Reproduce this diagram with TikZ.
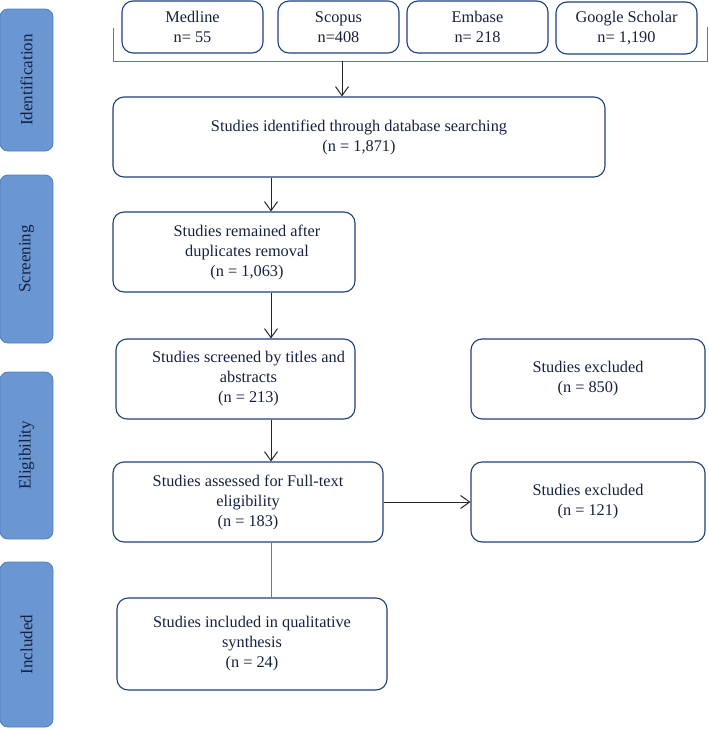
\documentclass[tikz,border=0pt]{standalone}
\usepackage{fontspec}
\setmainfont{Liberation Serif}
\usetikzlibrary{arrows.meta}
\definecolor{navy}{HTML}{1F3F7A}
\definecolor{txt}{HTML}{15213F}
\definecolor{sidefill}{HTML}{6A96D2}
\definecolor{sidedraw}{HTML}{4F7FC0}
\begin{document}
\begin{tikzpicture}[x=1pt,y=-1pt,
  box/.style={draw=navy,line width=1.1pt,rounded corners=11pt,align=center,text=txt,
    font=\fontsize{16.3}{20}\selectfont,inner sep=1pt},
  side/.style={draw=sidedraw,fill=sidefill,line width=0.8pt,rounded corners=8pt,
    minimum width=53pt,text=txt,font=\fontsize{17}{18}\selectfont},
  conn/.style={draw=black!85,line width=1pt},
  arr/.style={conn,-{Straight Barb[length=9pt,width=13pt,line width=1pt]}}]
\useasboundingbox (0,0) rectangle (709,729);
% side labels
\node[side,minimum height=142pt] (sid) at (26.5,80) {\rotatebox{90}{Identification}};
\node[side,minimum height=168pt] (sscr) at (26.5,259) {\rotatebox{90}{Screening}};
\node[side,minimum height=167pt] (selig) at (26.5,455.5) {\rotatebox{90}{Eligibility}};
\node[side,minimum height=165pt] (sinc) at (26.5,644.5) {\rotatebox{90}{Included}};
% databases
\node[box,minimum width=141pt,minimum height=52pt] (med) at (192.5,27) {Medline\\n= 55};
\node[box,minimum width=121pt,minimum height=52pt] (sco) at (338.5,27) {Scopus\\n=408};
\node[box,minimum width=141pt,minimum height=52pt] (emb) at (477.5,27) {Embase\\n= 218};
\node[box,minimum width=141pt,minimum height=52pt] (goo) at (626.5,28) {Google Scholar\\n= 1,190};
\coordinate (bl) at (113,28);
\coordinate (br) at (707.5,27);
\coordinate (brk) at (342,61);
\draw[conn,line width=0.8pt,draw=navy!70] (bl) -- (bl |- brk) -- (br |- brk) -- (br);
% main boxes
\node[box,minimum width=492pt,minimum height=80pt] (ident) at (359,137) {Studies identified through database searching\\(n = 1,871)};
\node[box,minimum width=242pt,minimum height=80pt] (dup) at (234,252) {\hspace*{26pt}Studies remained after\\\hspace*{26pt}duplicates removal\\\hspace*{26pt}(n = 1,063)};
\node[box,minimum width=239pt,minimum height=80pt] (scr) at (235.5,379) {\hspace*{26pt}Studies screened by titles and\\\hspace*{26pt}abstracts\\\hspace*{26pt}(n = 213)};
\node[box,minimum width=234pt,minimum height=80pt] (ex1) at (588,379) {Studies excluded\\(n = 850)};
\node[box,minimum width=270pt,minimum height=80pt] (ass) at (248,502) {Studies assessed for Full-text\\eligibility\\(n = 183)};
\node[box,minimum width=234pt,minimum height=80pt] (ex2) at (588,502) {Studies excluded\\(n = 121)};
\node[box,minimum width=270pt,minimum height=92pt] (inc) at (252,644) {Studies included in qualitative\\synthesis\\(n = 24)};
% connectors
\coordinate (col) at (271,0);
\draw[arr] (brk) -- (brk |- ident.north);
\draw[arr] (ident.south -| col) -- (dup.north -| col);
\draw[arr] (dup.south -| col) -- (scr.north -| col);
\draw[arr] (scr.south -| col) -- (ass.north -| col);
\draw[arr] (ass.east) -- (ex2.west);
\draw[conn,draw=navy!70] (ass.south -| col) -- (inc.north -| col);
\end{tikzpicture}
\end{document}
